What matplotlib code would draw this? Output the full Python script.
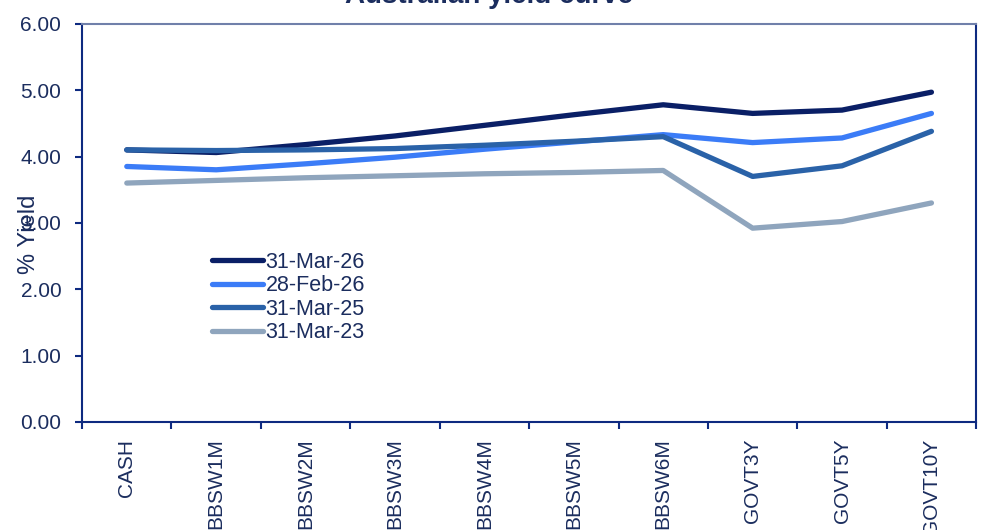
import matplotlib
matplotlib.use("Agg")
import matplotlib.pyplot as plt
import numpy as np

plt.rcParams['font.family'] = ['Liberation Sans', 'DejaVu Sans']

# Tenors and yields (%)
tenors = ["CASH", "BBSW1M", "BBSW2M", "BBSW3M", "BBSW4M", "BBSW5M",
          "BBSW6M", "GOVT3Y", "GOVT5Y", "GOVT10Y"]
mar26 = [4.10, 4.06, 4.18, 4.31, 4.47, 4.63, 4.78, 4.65, 4.70, 4.97]
feb26 = [3.85, 3.80, 3.89, 3.99, 4.11, 4.22, 4.33, 4.21, 4.28, 4.65]
mar25 = [4.10, 4.09, 4.10, 4.12, 4.17, 4.23, 4.30, 3.70, 3.86, 4.38]
mar23 = [3.60, 3.64, 3.68, 3.71, 3.74, 3.76, 3.79, 2.92, 3.02, 3.30]

series = [("31-Mar-26", mar26, "#0a1f66"),
          ("28-Feb-26", feb26, "#3b7cf7"),
          ("31-Mar-25", mar25, "#2a62a8"),
          ("31-Mar-23", mar23, "#8fa5bd")]

text_col = "#1b2d5e"
axis_col = "#0e2a80"

fig, ax = plt.subplots(figsize=(9.89, 5.30), dpi=100)
fig.subplots_adjust(left=0.083, right=0.987, top=0.955, bottom=0.204)

x = np.arange(len(tenors))
for name, vals, col in series:
    ax.plot(x, vals, color=col, lw=3.8, label=name, solid_capstyle="round")

ax.set_xlim(-0.5, len(tenors) - 0.5)
ax.set_ylim(0, 6)
ax.set_yticks(np.arange(0, 6.01, 1))
ax.set_yticklabels([f"{v:.2f}" for v in np.arange(0, 6.01, 1)])

# category labels at centres, tick marks at boundaries
ax.set_xticks(x)
ax.set_xticklabels(tenors, rotation=90)
ax.set_xticks(np.arange(-0.5, len(tenors), 1), minor=True)
ax.tick_params(axis="x", which="major", length=0, pad=12)
ax.tick_params(axis="x", which="minor", length=5, width=1.5, color=axis_col)
ax.tick_params(axis="y", length=5, width=1.5, color=axis_col, pad=10)
ax.tick_params(labelsize=15, labelcolor=text_col)

for side in ["left", "bottom", "right"]:
    ax.spines[side].set_color(axis_col)
    ax.spines[side].set_linewidth(1.5)
ax.spines["top"].set_color("#7080aa")
ax.spines["top"].set_linewidth(1.5)

ax.set_ylabel("% Yield", fontsize=17, color=text_col)
ax.yaxis.set_label_coords(-0.047, 0.47)

leg = ax.legend(loc="upper left", bbox_to_anchor=(0.133, 0.455), frameon=False,
                fontsize=15.5, handlelength=2.4, handletextpad=0.1,
                labelspacing=0.12, borderpad=0)
for t in leg.get_texts():
    t.set_color(text_col)

fig.text(0.495, 1 - 3 / 530, "Australian yield curve", ha="center", va="baseline",
         fontsize=20, fontweight="bold", color=text_col)

fig.savefig("out.png", dpi=100)
